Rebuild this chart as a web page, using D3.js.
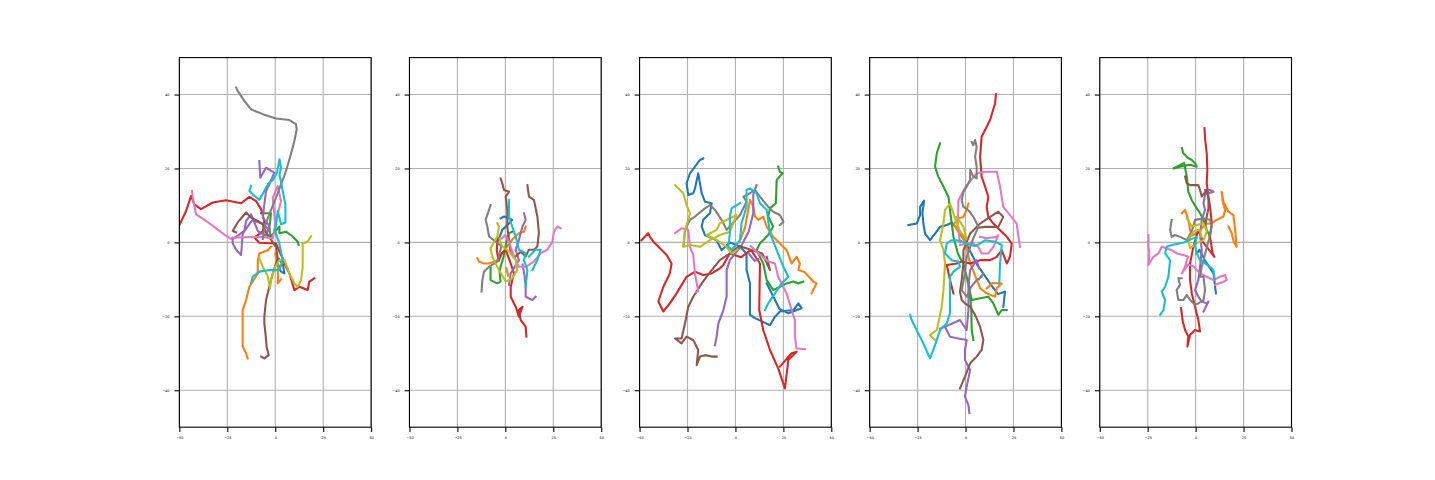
<!DOCTYPE html>
<html>
<head>
<meta charset="utf-8">
<script src="https://cdn.jsdelivr.net/npm/d3@7"></script>
<style>
  body { margin: 0; background: #fff; }
  svg { display: block; }
  .tick text { font-family: "DejaVu Sans", sans-serif; }
</style>
</head>
<body>
<svg id="chart" width="1435" height="480"></svg>
<script>
// tick values for every panel
const xTicks = [-50, -25, 0, 25, 50];
const yTicks = [-40, -20, 0, 20, 40];

// each panel: one entry per tab10 colour (blue, orange, green, red, purple, brown, pink, gray, olive, cyan),
// each entry a list of tracks, each track a list of [x, y]
const panel1 = [
  [[[1.3,-5.7],[3,-7.9],[4.8,-8.4],[4,-6],[2,-4.5]]],
  [[[-2.2,-1.2],[-3.9,-2.1],[-8.3,-3],[-9.1,-4.8],[-9.1,-8.4],[-13.5,-12],[-15.2,-15.6],[-17,-18.3],[-17,-23.7],[-17,-28.2],[-15.2,-30],[-14.4,-31.4]],
   [[0,-3],[1.3,-6],[1.5,-9],[1.3,-11.1],[3,-10]]],
  [[[-7.4,7.9],[-2.2,7.9],[-3,4],[-2.5,1.5],[2.2,4.3],[2.2,2.5],[5.6,2.9],[9.1,1.6],[11.7,0.2],[12.2,-0.7]]],
  [[[-50,4.7],[-46.5,8.5],[-43.9,12.6],[-42.2,10.3],[-38.7,9],[-32.6,10.8],[-25.7,11.4],[-17.8,10.6],[-13.5,12.3],[-10,11.2],[-7.4,9],[-5.7,5.8],[-6.5,3],[-10.9,1.3],[-8.3,-0.1],[0.4,-0.3],[2.2,-2.5],[3.9,-4.3],[5.6,-6.6],[7.4,-8.4],[10,-12.9],[12.6,-12],[16.9,-12.9],[17.8,-10.6],[20.4,-9.7]]],
  [[[-8.3,22],[-7.8,17.5],[-4.8,20.2],[-0.5,18.9],[-3.1,15.7],[-4.8,13.9],[-5.7,10.3],[-6.5,6.7],[-3.1,4.5],[-4.8,1.8],[-9,3],[-12.6,7.6],[-15.2,5.8],[-16.1,3.1],[-22.2,0.9],[-22.2,-0.3],[-20.4,-2],[-17.8,-3.4],[-17,2.4],[-12,6],[-6,5],[-3,3]]],
  [[[-7.4,-30.9],[-5.7,-31.4],[-3.4,-30.5],[-4.5,-28.2],[-5.1,-24.6],[-5.7,-21.9],[-5.7,-20.1],[-4.8,-15.6],[-3.1,-12],[-1.3,-8.4],[1.3,-4.3],[0.4,-1.2],[-4.8,2.7],[-6.5,4.9],[-9.1,5.8],[-12.6,6.7],[-15.2,8.1],[-19.6,5.4],[-22.2,3.1],[-20.4,2.7]]],
  [[[-43.4,13.9],[-43,12.1],[-41.3,7.6],[-38.7,6.7],[-36.1,5.8],[-32.6,4.5],[-29.1,3.1],[-25.7,1.8],[-23,0.9],[-22.2,1.3],[-15.2,1.4],[-8.3,1.5],[-1.3,1.1],[0,5],[-1.3,12.1],[1.3,15.3],[3,11.2],[1.5,8]]],
  [[[-20.4,41.9],[-19.6,41],[-16.1,38.3],[-12.6,36],[-6.5,34.7],[0.4,33.5],[7.4,33.1],[10.8,32],[11.2,30.6],[10,27.5],[8.2,23.9],[5.6,19.3],[3,15.7],[0.4,12.1],[-3.1,7.6],[-5.7,4],[-6.5,0.9]]],
  [[[18.7,1.7],[16.9,0.2],[14.3,-0.3],[14.3,-6.6],[13.5,-10.2],[11.7,-12],[10,-11.1],[7.4,-8.4],[4.8,-4.8],[2.2,-4.8],[-0.5,-7],[-2.2,-10.2],[-2.7,-12.4],[-4,-9],[-6.5,-6.6],[-8.3,-4.3]]],
  [[[-12.6,15.3],[-13.5,13.9],[-11.8,13],[-8.3,11.5],[-5.7,13.9],[-3.5,16],[-1,17],[1,19],[2.2,22.5],[3,20.2],[2.2,18.4],[3.9,13.9],[5.3,10.3],[5.3,5.4],[3,4.9],[1.3,8.5],[0,3],[2,0],[3.9,-4.8],[2.2,-7.5],[-3.1,-7.5],[-8.3,-7.9],[-11.8,-9.3],[-12.6,-11]]]
];

const panel2 = [
  [[[-2.5,6.5],[-0.7,7],[1.9,6.5],[3.6,6.1],[1,4.6],[-1.6,3.4],[-3,1.5],[-4.5,0]]],
  [[[-14.6,-4.3],[-13.7,-5.2],[-11.1,-5.7],[-8.5,-5.7],[-4.2,-4.8],[-1.6,-3],[1,-1],[4,1],[7,2.5],[9.7,2.9],[10.6,4.3]],
   [[0.5,-7],[1.5,-9]]],
  [[[-7.7,-6.6],[-7.7,-10.2],[-4.2,-11.1],[-2.5,-10.6],[-3,-8],[-2.5,-6.6],[-1,-4],[0.5,0],[1.9,2.5],[3.6,2.9]]],
  [[[-4,1],[-4.5,-2],[-3.5,-5],[-2,-3],[0.2,-2],[2.8,-5.7],[4.5,-8.4],[2.8,-12],[2.8,-14.7],[5.4,-17.4],[7.1,-20.1],[8.9,-17.4],[7.1,-18.3],[8,-21],[10.6,-22.8],[11,-25.5]]],
  [[[9.7,7.9],[10.6,6.1],[8.9,4.3],[7.1,0.7],[5.4,-2],[7.1,-4.8],[2.8,-8.4],[1.9,-11.5]],
   [[9,-6],[10,-9],[10.6,-12],[10.6,-14.7],[14.1,-15.6],[15.8,-14.7]]],
  [[[-2.5,17.3],[-1.6,16],[-0.7,14.2],[1.9,13.7],[0.2,12.4],[1,8.8],[1,4.3],[1.9,0.7],[2.8,-2.9],[5,-4],[8,-2.5],[10.6,-3.8],[12.3,-2],[14.9,-2],[16.7,-1.1],[17.5,2.5],[16.7,7],[14.9,11.5],[12.3,12.4],[11.5,15.5]]],
  [[[28.9,3.8],[27.1,4.3],[25.4,2.9],[24.5,0.2],[21.9,-2],[18.4,-2.9],[14.9,-5.2],[10.6,-6.6],[7,-6.6],[4,-3],[2,0],[0,2],[-2,1]]],
  [[[-7.7,10.1],[-8.5,8.8],[-10.3,6.1],[-9.4,4.3],[-8.5,1.6],[-5.1,0.2],[-2,-1],[-4.2,-5.2],[-8.5,-6.6],[-11.1,-7.9],[-12,-10.2],[-12.4,-13.3]]],
  [[[-4.2,5.2],[-3.3,4.3],[-4.2,1.6],[-7.7,-1.6],[-6.8,-3.9],[-3.3,-7.5],[0.2,-10.6],[3.6,-9.7],[6.2,-7.5],[5.4,-4.8],[2,-2.5],[-1.6,-1.1],[-3,1]]],
  [[[1.9,11.5],[1.9,7],[3.6,4.3],[5.4,1.6],[7.1,-2],[10.6,-2.9],[9.7,-4.8],[11.5,-7.5],[10.6,-12]],
   [[12.3,-3.8],[15.8,-2],[18.4,-2],[16.7,-4.8],[14.1,-7.5]]]
];

const panel3 = [
  [[[-16.8,22.7],[-18.5,22.3],[-21.1,20.5],[-23.7,18.7],[-25.5,16],[-24.6,12.8],[-22,13.3],[-21.1,14.6],[-19.4,18.7],[-18.5,16],[-17.6,13.3],[-15.9,11],[-12.4,10.6],[-13.3,7.9],[-16.8,6.1],[-17.6,4.3],[-15.9,2],[-9.8,0.6],[-7.2,-2.1],[-3,0],[2,-1],[5.8,-3],[5.8,-7.5],[7.6,-11.1],[7.6,-19.6],[10.2,-20.5],[18,-22.4],[20.6,-20.1],[23.2,-18.7],[30.2,-18.3],[32.8,-16.5],[34.5,-17.8],[27.6,-19.2],[23,-18],[18.9,-13.8],[16.3,-11.1]]],
  [[[2,0],[5,4],[7.6,11.5],[9.3,9.7],[10.2,7],[12,6.1],[14.5,7],[16.3,4.3],[19.7,1.5],[23.2,-0.3],[26.7,-2.1],[29.3,-5.7],[31.9,-3.9],[33.6,-5.7],[32.8,-7.5],[36,-8],[40.6,-10.6],[42.3,-11.1],[39.7,-13.8]]],
  [[[22.3,20.5],[23.2,19.1],[24.6,18.7],[21.5,16.9],[21.1,10.6],[18,9.2],[17.1,7],[19.7,4.3],[17.1,2],[12.8,-0.3],[11,-2.1],[14.5,-5.7],[16.3,-10.2],[19.7,-12.9],[23.2,-12],[26.7,-11.1],[30.2,-10.6],[32.8,-11.1],[35.4,-10.6]]],
  [[[-49,0.6],[-45.5,2.5],[-44.6,1.5],[-42.8,0.2],[-39.4,-1.6],[-35.9,-3.4],[-33.3,-5.7],[-34.2,-8.4],[-37.6,-12],[-40.2,-16],[-37.6,-18.7],[-34.2,-16.5],[-30.7,-13.8],[-25.5,-9.3],[-21.1,-7.9],[-16.8,-8.8],[-12.4,-8.4],[-8.1,-7],[-6.3,-6.1],[-3,-3],[3,-4],[8,-2],[12.8,-5.7],[12.4,-18.3],[14.5,-23.7],[18,-29.1],[22.3,-34.1],[25.8,-39.5],[27.6,-31.8],[31.9,-29.6],[29.3,-30],[23.2,-33.6]]],
  [[[11,15.5],[9.3,13],[9.3,7.9],[7,3],[3,-1],[-2.9,-4.8],[-4.6,-7.5],[-4.6,-14.7],[-6.3,-18.3],[-8.9,-21.9],[-9.8,-25.5],[-10.7,-27.8]],
   [[7,-3],[10,-5],[12,-4.5]]],
  [[[16.3,-3.9],[18,-7.5],[14,-3],[8,-2],[2,-1],[-3,-3],[-8.1,-4.8],[-12.4,-7.5],[-17.6,-11.1],[-22,-14.7],[-24.6,-17.4],[-26.3,-21.9],[-28.1,-26],[-31.5,-26],[-28.1,-27.3],[-25.5,-25.5],[-22,-26.4],[-19.4,-29.1],[-20.2,-33.2],[-18.5,-30.9],[-15.9,-30.5],[-12.4,-30.9],[-9.8,-30.9]]],
  [[[-31.5,2.5],[-28.1,3.8],[-24.6,3.4],[-23.7,-1.2],[-22,-3.4],[-21.5,-6],[-21.1,-8.4],[-19.4,-13.3],[-20.5,-13.5]],
   [[8,-1],[12,-3],[17.1,-5.2],[20.6,-5.7],[22.3,-9.3],[26.7,-13.8],[29.3,-18.3],[31,-21],[31,-25.5],[31.9,-28.7],[36.3,-28.9]]],
  [[[-27,-1],[-26.3,3.4],[-23.7,6.1],[-21.1,7],[-15.9,9.2],[-13.3,10.1],[-10.7,8.8],[-7.2,6.1],[-4.6,3.4],[2.4,7.4],[5.8,11],[4.1,12.4],[7.6,13.3],[10.2,14.2],[12.8,12.4],[16.3,10.1],[19.7,8.3],[23.2,7.4],[25,5.6],[23.2,4.7]]],
  [[[-31.5,15.5],[-27.2,13.3],[-25.5,10.1],[-23.7,7.9],[-24.6,6.1],[-26.3,3.4],[-27.2,-1.2],[-23.7,-0.7],[-18.5,-1.2],[-13.3,0.6],[-8.1,2],[-2.9,2.9],[0.6,7.4],[-1,7],[-8.1,5.2],[-9.8,3.4],[-15,2],[-11,1],[-5,-1],[-2,-3],[1,-2]]],
  [[[2.4,10.6],[-2,9.2],[-2.9,7],[-2.9,2.5],[-3.7,-1.2],[-2,-2],[2.4,0.6],[3.2,5.2],[5.8,9.7],[5.8,14.2],[7.6,14.6],[11,13.3],[12.8,10.6],[16.3,8.8],[18,2.5],[21.5,-2.1],[25,-6.6],[27.6,-9.3],[24.1,-11.1],[20.6,-13.8],[17.1,-16.5],[15.4,-18.3]]]
];

const panel4 = [
  [[[-29.8,4.7],[-25.5,5.1],[-23.7,7.4],[-23.7,9.6],[-21.6,11.3],[-22.5,8],[-22,5.1],[-21.1,2.4],[-18.5,0.6],[-15.9,2.4],[-13.3,4.2],[-9.8,4.7],[-7.2,5.3],[-3,3],[2,-2],[6,-6],[10,-9],[14,-12],[17,-14],[20.6,-13.3],[19.7,-17.4]]],
  [[[1.5,10.5],[0.6,8.8],[-1.1,6.9],[-3.7,6.5],[-6,5],[-4,3],[0,0],[2,-5],[5,-9],[7.6,-12.4],[11,-13.8],[15.4,-14.7],[16.3,-12.4],[18.9,-11.1],[14,-11],[11,-12.5]]],
  [[[-13.3,26.8],[-15,24.1],[-15.9,20.5],[-14.2,17.8],[-11.5,15.1],[-8.9,12.3],[-8.1,8.8],[-7.2,5.1],[-6.3,1.5],[-4,-3],[-1,-6],[0.6,-9.3],[3.2,-15.6],[7.6,-15.1],[11.9,-14.7],[14.5,-16.5],[17.1,-19.6],[18.9,-18.3],[21.5,-18.3]],
   [[1.5,-10],[3,-18],[3.2,-23.7],[4.1,-26.4]]],
  [[[15.9,40.1],[15.4,37.6],[12.8,33.1],[10.2,30.4],[8.4,28.6],[7.6,23.2],[8.4,17.8],[10.2,15.1],[11.9,12.3],[11,9.6],[11.9,6.9],[14.5,5.1],[18,3.3],[21.5,1.5],[24.1,-0.3],[23.2,-3.9],[21.5,-5.7],[18.9,-2.1],[16.3,-3.9],[12.8,-4.8],[7.6,-4.8],[2.4,-5.7],[-2,-5.2],[-4.6,-5.7],[-9.8,-6.1],[-8.1,-10.2],[-6.3,-13.8]]],
  [[[2,-46.2],[1.5,-44],[-0.3,-41.7],[0.6,-39],[2.4,-34.5],[-0.3,-31.8],[-0.3,-29.1],[0.6,-26.4],[-3.7,-26],[-8.1,-25.5],[-10.7,-22.8],[-13.3,-23.3],[-10.7,-22.8],[-4.6,-21.4],[-2.9,-21],[0.6,-23.7],[1.5,-18.3],[1.5,-12],[2.4,-7.5],[5.8,-4.8],[7,-7]]],
  [[[-2.9,-39.5],[-0.3,-36.3],[2.4,-32.7],[5.8,-30.9],[8.4,-29.1],[9.3,-26.4],[7.6,-22.8],[5,-19.6],[2.4,-17.4],[-0.3,-16.5],[-2,-15.6],[-2.9,-13.3],[-2,-10.2],[-1.1,-5.7],[-1.1,-2.1],[2.4,2.4],[7.6,5.1],[12.8,6.9],[17.1,8.3],[19.7,6.9],[17.1,4.2],[10.2,4.2],[7,4]]],
  [[[-3,0],[-4,5],[-3.7,11.4],[0,15],[5.8,18.7],[10.2,19.1],[16.3,19.1],[18,15.1],[19.7,9.6],[23.2,7.4],[26.7,5.1],[27.6,1.5],[28.4,-1.2]],
   [[7.6,1.5],[11,1.1],[16.3,1.5],[17.1,2],[14.5,-1.2],[11.9,-3],[8.4,-3],[6.7,-1.2],[3,0],[-2.9,-0.7]]],
  [[[3.2,27.2],[4.1,26.3],[5,27.7],[5.8,25.9],[5,23.2],[5.8,20.5],[5.8,17.3],[4.1,17.8],[2.4,19.6],[2.4,16.9],[0.6,15.1],[-1.1,13.7],[-2,11.4],[-1.1,9.6],[1.5,8.7],[4.1,6.9],[6.7,4.2],[4,1],[0.6,-3.9],[-0.3,-8.4],[-2,-12.9],[0.6,-14.7],[3,-12],[5.8,-10.2],[8.4,-9.3],[9.3,-8.4],[7,-10]]],
  [[[-4.6,6.9],[-1.1,4.2],[0.5,1],[-3,3],[-8.1,10.5],[-10.7,8.8],[-11.5,5.1],[-13.3,0.6],[-11.5,-2],[-10.7,-5.7],[-11.5,-12.9],[-12.4,-17.4],[-14.2,-21.9],[-15,-23.7],[-18.5,-25.1],[-15.9,-26.4]]],
  [[[-28.9,-19.6],[-28.1,-21],[-25.5,-23.7],[-22,-27.3],[-18.5,-31.4],[-15.9,-27.8],[-13.3,-23.7],[-9.8,-21.9],[-8.1,-19.2],[-8.1,-12.9],[-8.1,-9.3],[-6.3,-7.9],[-2.9,-6.6],[-3.7,-5.2],[-7.2,-4.8],[-10.7,-3],[-9.8,-0.3],[-7.2,0.6],[-3,0.5],[1,-0.5],[5,-1],[7.6,-0.3],[10.2,0.6],[15.4,0.2],[18.9,-0.7],[18,-5.7],[17.6,-11.1]]]
];

const panel5 = [
  [[[0.6,-3],[2,-2],[5,-5],[9.3,-8.4],[10.6,-13.8]]],
  [[[-7.2,7.9],[-5.5,8.8],[-3.8,6.1],[-2.9,3.4],[-2,1.8],[2,3],[5,5],[8.4,5.2],[11,6.1],[14.5,7],[15.4,8.8],[14.1,11],[13.6,13.7],[14.5,11],[17.1,8.3],[19.7,7.4],[20.6,3.4],[21.4,-1.2],[20,0],[18.8,2.5],[17.1,4.3]]],
  [[[-7.2,25.5],[-6.4,24.1],[-3.8,22.8],[-2,22.3],[-0.3,21.4],[0.6,20.5],[-2.9,21],[-8.1,20.5],[-11.6,20],[-6,21.5],[-4.6,17.8],[-3.8,13.7],[-2,11.4],[0.6,9.2],[2.3,7.9],[4.1,6.1],[5.8,3.4],[7.5,1.5]]],
  [[[4.6,30.9],[5,27.7],[5.8,24.1],[6.1,19.6],[5.8,16],[6.7,12.4],[7.5,9.7],[8.4,5.2],[7.5,1.5],[8.9,-3],[9.8,-3.9],[7,-2],[4,0],[1.4,3.4],[-1.2,-1.2],[-2.9,-5.7],[-2.9,-10.2],[-2,-13.8],[-0.3,-17.4],[1.4,-21],[2.3,-24.1],[-0.3,-23.7],[-2.9,-25],[-4.3,-28.2],[-3.8,-25.5],[-5.5,-23.7],[-6.7,-21.4],[-7.6,-17.8]]],
  [[[4.9,14.2],[7.5,14.2],[9.3,13.7],[5,13],[4.1,10.6],[4.9,8.8],[3.2,6.1],[2.3,2.4],[3.2,-2.1],[2.3,-6.6],[1.4,-10.2],[-0.3,-12.9],[1.4,-14.7],[3.2,-16],[5.8,-16.5],[6.7,-16],[4.1,-18.7]]],
  [[[-5.5,17.8],[-4.6,16],[-2.9,15.5],[1.4,15.5],[2.3,14.2],[3.2,12.4],[5.8,14.2],[6.7,11.5],[6.7,9.2],[5.8,7],[4.9,4.3]]],
  [[[-24.6,2],[-24.6,-1.2],[-24.1,-3],[-24.6,-6.1],[-22,-3.9],[-19.4,-3],[-17.7,-1.2],[-15.1,-1.6],[-12.5,-2.1],[-9.9,-3],[-6.4,-3.4],[-3.8,-3.9],[-4.6,-4.8],[-5.5,-6.6],[-7.2,-8.4],[-4,-6],[-1,-6.5],[2.3,-8.4],[5.8,-9.3],[9.3,-10.2],[12.8,-9.3],[15.4,-8.8],[16.2,-10.2],[14.8,-10.6],[10.1,-11.5]]],
  [[[-12.5,6.1],[-13.3,3.4],[-12.5,1.5],[-10.7,2],[-8.1,1.5],[-4.6,0.6],[-2,3],[-0.3,6.1],[4.1,6.5],[7.5,6.1],[8.4,4.3],[7,1],[5,-3],[3,-7],[2.3,-9.3],[4.1,-9.3],[4.9,-12.9],[4.1,-15.6],[1.4,-16.5],[-0.3,-16.9],[-2.9,-15.6],[-4.6,-14.2],[-6.4,-15.6],[-9,-15.6],[-9.9,-12.9],[-8.1,-11.5],[-9,-9.7],[-7.2,-9.7]]],
  [[[-4.6,6.5],[-2,4.3],[0.6,4.7],[4.1,5.2],[5.8,2.9],[4.1,0.6],[0.6,-0.2],[-2.9,-1.6],[-3.8,0.6],[-1.2,2.9],[2.3,3.4],[3,1.5]]],
  [[[-18.5,-19.6],[-16.8,-18.3],[-15.9,-15.6],[-17.7,-13.3],[-15.9,-12],[-14.2,-9.3],[-13.3,-4.8],[-15.9,-3],[-15.1,-1.2],[-12.5,-0.7],[-6,0],[0.6,1.5],[-0.3,-0.7],[0.6,-3],[2.3,-4.8],[4.9,-5.7],[7.5,-6.6],[9.3,-7.5],[10,-10]]]
];

const panels = [panel1, panel2, panel3, panel4, panel5];

const W = 1435, H = 480;
const mLeft = 0.125 * W, mRight = 0.9 * W, mTop = 0.12 * H, mBottom = 0.89 * H;
const pw = (mRight - mLeft) / (5 + 4 * 0.2);
const gap = pw * 0.2;
const ph = mBottom - mTop;
const colors = d3.schemeCategory10;
const fmt = d => (d < 0 ? "\u2212" + Math.abs(d) : String(d));

const svg = d3.select("#chart");
svg.append("rect").attr("width", W).attr("height", H).attr("fill", "#fff");

panels.forEach((panel, i) => {
    const x0 = mLeft + i * (pw + gap);
    const g = svg.append("g").attr("transform", `translate(${x0},${mTop})`);

    const x = d3.scaleLinear().domain([-50, 50]).range([0, pw]);
    const y = d3.scaleLinear().domain([-50, 50]).range([ph, 0]);

    g.append("clipPath").attr("id", "clip" + i)
        .append("rect").attr("width", pw).attr("height", ph);

    // grid
    g.append("g").selectAll("line").data(xTicks).join("line")
        .attr("x1", d => x(d)).attr("x2", d => x(d))
        .attr("y1", 0).attr("y2", ph)
        .attr("stroke", "#b0b0b0").attr("stroke-width", 1.1);
    g.append("g").selectAll("line").data(yTicks).join("line")
        .attr("y1", d => y(d)).attr("y2", d => y(d))
        .attr("x1", 0).attr("x2", pw)
        .attr("stroke", "#b0b0b0").attr("stroke-width", 1.1);

    // tracks
    const line = d3.line().x(d => x(d[0])).y(d => y(d[1]));
    const lines = g.append("g").attr("clip-path", `url(#clip${i})`);
    panel.forEach((tracks, c) => {
        lines.selectAll(null).data(tracks).join("path")
            .attr("d", line)
            .attr("fill", "none")
            .attr("stroke", colors[c])
            .attr("stroke-width", 2.08)
            .attr("stroke-linejoin", "round")
            .attr("stroke-linecap", "square");
    });

    // axes
    const xa = g.append("g").attr("transform", `translate(0,${ph})`)
        .call(d3.axisBottom(x).tickValues(xTicks).tickFormat(fmt).tickSize(4.9).tickPadding(4.9));
    const ya = g.append("g")
        .call(d3.axisLeft(y).tickValues(yTicks).tickFormat(fmt).tickSize(4.9).tickPadding(4.9));
    [xa, ya].forEach(a => {
        a.select(".domain").remove();
        a.selectAll(".tick line").attr("stroke", "#000").attr("stroke-width", 1.1);
        a.selectAll(".tick text").attr("font-size", 3.5).attr("fill", "#000");
    });

    g.append("rect").attr("width", pw).attr("height", ph)
        .attr("fill", "none").attr("stroke", "#000").attr("stroke-width", 1.1);
});
</script>
</body>
</html>
